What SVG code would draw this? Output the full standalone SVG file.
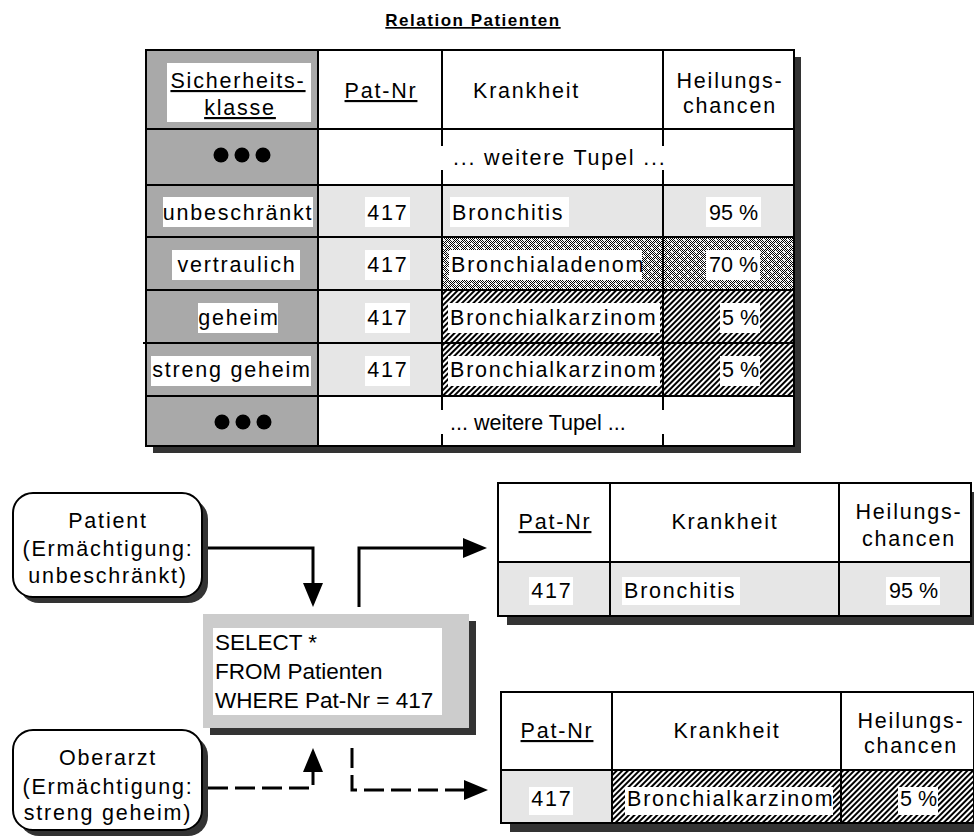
<svg xmlns="http://www.w3.org/2000/svg" width="974" height="837" viewBox="0 0 974 837">
  <style>
    text { font-family: "Liberation Sans", Arial, sans-serif; font-size: 21.5px; fill: #000; }
    .sp { letter-spacing: 1.8px; }
    .mid { text-anchor: middle; }
    .u { text-decoration: underline; }
    .sql { font-size: 22.5px; }
    .title { font-size: 17px; font-weight: bold; letter-spacing: 1.5px; text-decoration: underline; }
    .grid { stroke: #000; stroke-width: 2; fill: none; }
    .shadow { fill: #333; }
    .lbl { fill: #fff; }
    .col1 { fill: #a9a9a9; }
    .light { fill: #e6e6e6; }
    .wire { fill: none; stroke: #000; stroke-width: 3; }
    .dash { stroke-dasharray: 20 7; }
    .rbox { fill: #fff; stroke: #000; stroke-width: 2; }
  </style>
  <defs>
    <pattern id="chk" patternUnits="userSpaceOnUse" width="2" height="2">
      <rect width="2" height="2" fill="#fff"/>
      <rect width="1" height="1" fill="#000"/>
      <rect x="1" y="1" width="1" height="1" fill="#000"/>
    </pattern>
    <!-- dotted diagonal cross-hatch -->
    <pattern id="lattice" patternUnits="userSpaceOnUse" width="8" height="8">
      <rect width="8" height="8" fill="#fff"/>
      <path d="M-1,-1 L9,9 M9,-1 L-1,9" stroke="url(#chk)" stroke-width="3.6"/>
    </pattern>
    <pattern id="hatch" patternUnits="userSpaceOnUse" width="4" height="8" patternTransform="rotate(45)">
      <rect width="4" height="8" fill="#fff"/>
      <rect width="2" height="8" fill="#000"/>
    </pattern>
    <marker id="head" markerUnits="userSpaceOnUse" viewBox="0 0 24 20" markerWidth="24" markerHeight="20" refX="14" refY="10" orient="auto">
      <path d="M0,0 L24,10 L0,20Z" fill="#000"/>
    </marker>
  </defs>

  <text class="title mid" x="473" y="26">Relation Patienten</text>

  <!-- main relation table -->
  <g id="relation">
    <rect class="shadow" x="153" y="57" width="648" height="396"/>
    <rect x="146" y="50" width="648" height="396" fill="#fff"/>
    <rect class="col1" x="146" y="50" width="172" height="396"/>
    <rect class="light" x="318" y="185" width="476" height="52"/>
    <rect class="light" x="318" y="237" width="124" height="159"/>
    <rect x="442" y="237" width="352" height="53" fill="url(#lattice)"/>
    <rect x="442" y="290" width="352" height="106" fill="url(#hatch)"/>

    <!-- grid -->
    <path class="grid" d="M143,343 H794 M146,129 H794 M146,185 H794 M146,237 H794 M146,290 H794 M146,396 H794 M318,50 V446 M442,50 V446 M663,50 V446"/>
    <rect class="grid" x="146" y="50" width="648" height="396"/>

    <!-- header -->
    <rect class="lbl" x="167" y="63" width="144" height="59"/>
    <text class="sp mid u" x="238" y="88">Sicherheits-</text>
    <text class="sp mid u" x="240" y="115">klasse</text>
    <text class="sp mid u" x="381" y="98">Pat-Nr</text>
    <text class="sp" x="473" y="98">Krankheit</text>
    <text class="sp mid" x="730" y="88">Heilungs-</text>
    <text class="sp mid" x="730" y="113">chancen</text>

    <!-- elided tuples -->
    <circle cx="221" cy="155" r="7.5"/>
    <circle cx="242" cy="155" r="7.5"/>
    <circle cx="263" cy="155" r="7.5"/>
    <rect class="lbl" x="437" y="146" width="231" height="24"/>
    <text class="sp" x="453" y="165">... weitere Tupel ...</text>

    <circle cx="222" cy="422" r="7.5"/>
    <circle cx="243" cy="422" r="7.5"/>
    <circle cx="264" cy="422" r="7.5"/>
    <rect class="lbl" x="437" y="410" width="231" height="24"/>
    <text x="450" y="430">... weitere Tupel ...</text>

    <!-- tuple: unbeschränkt -->
    <rect class="lbl" x="163" y="197" width="150" height="30"/>
    <rect class="lbl" x="365" y="197" width="45" height="30"/>
    <rect class="lbl" x="450" y="197" width="119" height="30"/>
    <rect class="lbl" x="706" y="197" width="55" height="30"/>
    <text class="sp mid" x="238" y="220">unbeschränkt</text>
    <text class="sp mid" x="388" y="220">417</text>
    <text class="sp" x="452" y="220">Bronchitis</text>
    <text x="709" y="220">95 %</text>

    <!-- tuple: vertraulich -->
    <rect class="lbl" x="172" y="250" width="128" height="30"/>
    <rect class="lbl" x="365" y="250" width="45" height="30"/>
    <rect class="lbl" x="449" y="250" width="193" height="30"/>
    <rect class="lbl" x="706" y="250" width="54" height="30"/>
    <text class="sp mid" x="237" y="272">vertraulich</text>
    <text class="sp mid" x="388" y="272">417</text>
    <text class="sp" x="451" y="272">Bronchialadenom</text>
    <text x="709" y="272">70 %</text>

    <!-- tuple: geheim -->
    <rect class="lbl" x="198" y="303" width="80" height="30"/>
    <rect class="lbl" x="365" y="303" width="45" height="30"/>
    <rect class="lbl" x="448" y="303" width="212" height="30"/>
    <rect class="lbl" x="720" y="303" width="40" height="30"/>
    <text class="sp mid" x="239" y="325">geheim</text>
    <text class="sp mid" x="388" y="325">417</text>
    <text class="sp" x="450" y="325">Bronchialkarzinom</text>
    <text x="722" y="325">5 %</text>

    <!-- tuple: streng geheim -->
    <rect class="lbl" x="151" y="356" width="160" height="30"/>
    <rect class="lbl" x="365" y="356" width="45" height="30"/>
    <rect class="lbl" x="448" y="356" width="212" height="30"/>
    <rect class="lbl" x="720" y="356" width="40" height="30"/>
    <text class="sp mid" x="232" y="377">streng geheim</text>
    <text class="sp mid" x="388" y="377">417</text>
    <text class="sp" x="450" y="377">Bronchialkarzinom</text>
    <text x="722" y="377">5 %</text>
  </g>

  <!-- subjects -->
  <g id="patient">
    <rect class="shadow" x="19" y="499" width="189" height="104" rx="20"/>
    <rect class="rbox" x="13" y="493" width="189" height="104" rx="20"/>
    <text class="sp mid" x="108" y="528">Patient</text>
    <text class="sp mid" x="108" y="556">(Ermächtigung:</text>
    <text class="sp mid" x="108" y="583">unbeschränkt)</text>
  </g>

  <g id="oberarzt">
    <rect class="shadow" x="19" y="736" width="189" height="100" rx="20"/>
    <rect class="rbox" x="13" y="730" width="189" height="100" rx="20"/>
    <text class="sp mid" x="108" y="765">Oberarzt</text>
    <text class="sp mid" x="108" y="794">(Ermächtigung:</text>
    <text class="sp mid" x="108" y="820">streng geheim)</text>
  </g>

  <!-- query -->
  <g id="query">
    <rect class="shadow" x="210" y="621" width="266" height="114"/>
    <rect x="203" y="614" width="266" height="114" fill="#ccc"/>
    <rect x="213" y="628" width="229" height="87" fill="#fff"/>
    <text class="sql" x="215" y="650">SELECT *</text>
    <text class="sql" x="215" y="679">FROM Patienten</text>
    <text class="sql" x="215" y="708">WHERE Pat-Nr = 417</text>
  </g>

  <!-- result for the patient -->
  <g id="result-patient">
    <rect class="shadow" x="507" y="492" width="473" height="133"/>
    <rect x="498" y="483" width="473" height="133" fill="#fff"/>
    <rect class="light" x="498" y="562" width="473" height="54"/>
    <path class="grid" d="M498,562 H971 M610,483 V616 M839,483 V616"/>
    <rect class="grid" x="498" y="483" width="473" height="133"/>
    <text class="sp mid u" x="555" y="529">Pat-Nr</text>
    <text class="sp mid" x="725" y="529">Krankheit</text>
    <text class="sp mid" x="909" y="519">Heilungs-</text>
    <text class="sp mid" x="909" y="546">chancen</text>
    <rect class="lbl" x="529" y="577" width="44" height="28"/>
    <rect class="lbl" x="622" y="577" width="118" height="28"/>
    <rect class="lbl" x="886" y="577" width="54" height="28"/>
    <text class="sp mid" x="552" y="598">417</text>
    <text class="sp" x="624" y="598">Bronchitis</text>
    <text x="889" y="598">95 %</text>
  </g>

  <!-- result for the senior physician -->
  <g id="result-oberarzt">
    <rect class="shadow" x="510" y="701" width="473" height="131"/>
    <rect x="501" y="692" width="473" height="131" fill="#fff"/>
    <rect class="light" x="501" y="770" width="111" height="53"/>
    <rect x="612" y="770" width="362" height="53" fill="url(#hatch)"/>
    <path class="grid" d="M501,770 H974 M612,692 V823 M841,692 V823"/>
    <rect class="grid" x="501" y="692" width="473" height="131"/>
    <text class="sp mid u" x="557" y="738">Pat-Nr</text>
    <text class="sp mid" x="727" y="738">Krankheit</text>
    <text class="sp mid" x="911" y="728">Heilungs-</text>
    <text class="sp mid" x="911" y="753">chancen</text>
    <rect class="lbl" x="529" y="787" width="44" height="28"/>
    <rect class="lbl" x="625" y="787" width="208" height="28"/>
    <rect class="lbl" x="898" y="787" width="40" height="28"/>
    <text class="sp mid" x="552" y="806">417</text>
    <text class="sp" x="627" y="806">Bronchialkarzinom</text>
    <text x="900" y="806">5 %</text>
  </g>

  <!-- connectors -->
  <g id="connectors">
    <path class="wire" d="M208,548 H313 V597" marker-end="url(#head)"/>
    <path class="wire" d="M359,607 V548 H477" marker-end="url(#head)"/>
    <path class="wire dash" d="M208,788 H313 V758" marker-end="url(#head)"/>
    <path class="wire dash" d="M352,748 V790 H478" marker-end="url(#head)"/>
  </g>
</svg>
